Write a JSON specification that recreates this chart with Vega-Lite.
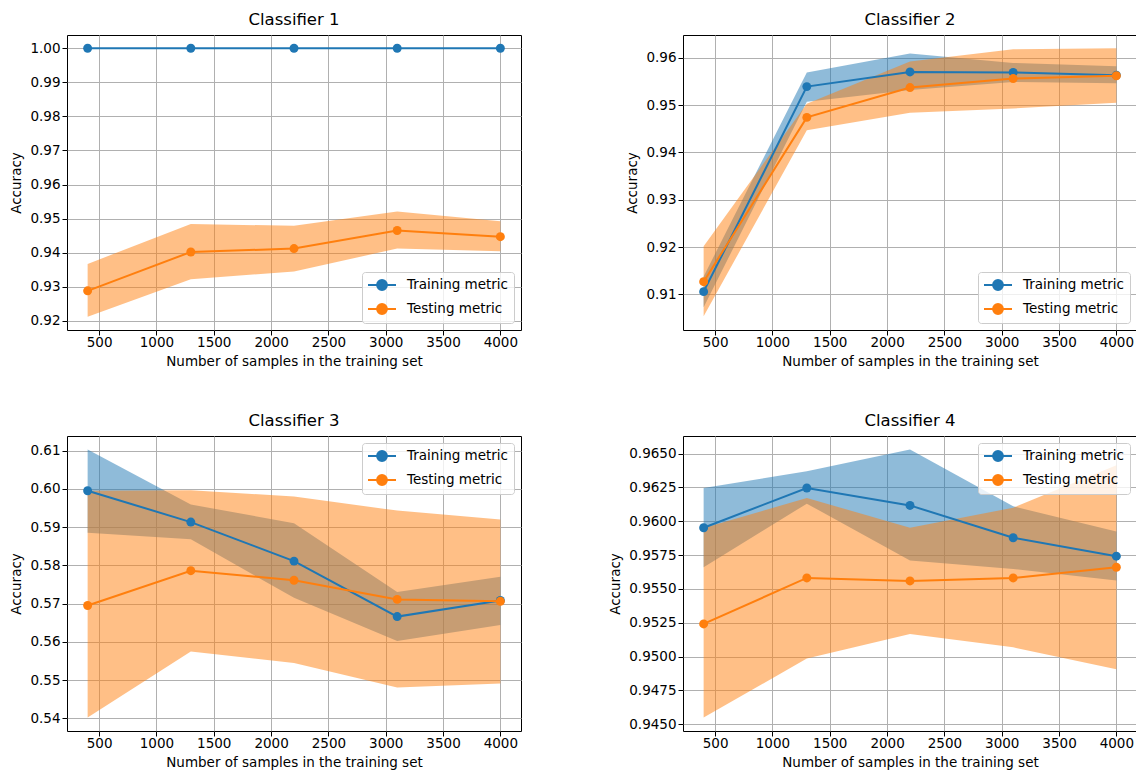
{
  "$schema": "https://vega.github.io/schema/vega-lite/v6.json",
  "padding": {"left": 9, "top": 11, "right": 0, "bottom": 0},
  "background": "white",
  "datasets": {
    "d": [
      {"clf": 1, "set": "Training metric", "n": 400, "mean": 1.0, "lo": 1.0, "hi": 1.0},
      {"clf": 1, "set": "Training metric", "n": 1300, "mean": 1.0, "lo": 1.0, "hi": 1.0},
      {"clf": 1, "set": "Training metric", "n": 2200, "mean": 1.0, "lo": 1.0, "hi": 1.0},
      {"clf": 1, "set": "Training metric", "n": 3100, "mean": 1.0, "lo": 1.0, "hi": 1.0},
      {"clf": 1, "set": "Training metric", "n": 4000, "mean": 1.0, "lo": 1.0, "hi": 1.0},
      {"clf": 1, "set": "Testing metric", "n": 400, "mean": 0.9288, "lo": 0.9212, "hi": 0.9367},
      {"clf": 1, "set": "Testing metric", "n": 1300, "mean": 0.9402, "lo": 0.9322, "hi": 0.9484},
      {"clf": 1, "set": "Testing metric", "n": 2200, "mean": 0.9412, "lo": 0.9345, "hi": 0.9479},
      {"clf": 1, "set": "Testing metric", "n": 3100, "mean": 0.9465, "lo": 0.9412, "hi": 0.9521},
      {"clf": 1, "set": "Testing metric", "n": 4000, "mean": 0.9447, "lo": 0.9404, "hi": 0.9492},
      {"clf": 2, "set": "Training metric", "n": 400, "mean": 0.9106, "lo": 0.9073, "hi": 0.9138},
      {"clf": 2, "set": "Training metric", "n": 1300, "mean": 0.9539, "lo": 0.9507, "hi": 0.9569},
      {"clf": 2, "set": "Training metric", "n": 2200, "mean": 0.9570, "lo": 0.9532, "hi": 0.9609},
      {"clf": 2, "set": "Training metric", "n": 3100, "mean": 0.9569, "lo": 0.9549, "hi": 0.9589},
      {"clf": 2, "set": "Training metric", "n": 4000, "mean": 0.9563, "lo": 0.9546, "hi": 0.9582},
      {"clf": 2, "set": "Testing metric", "n": 400, "mean": 0.9127, "lo": 0.9054, "hi": 0.9202},
      {"clf": 2, "set": "Testing metric", "n": 1300, "mean": 0.9474, "lo": 0.9447, "hi": 0.9503},
      {"clf": 2, "set": "Testing metric", "n": 2200, "mean": 0.9537, "lo": 0.9484, "hi": 0.9592},
      {"clf": 2, "set": "Testing metric", "n": 3100, "mean": 0.9556, "lo": 0.9493, "hi": 0.9618},
      {"clf": 2, "set": "Testing metric", "n": 4000, "mean": 0.9562, "lo": 0.9505, "hi": 0.9620},
      {"clf": 3, "set": "Training metric", "n": 400, "mean": 0.5995, "lo": 0.5885, "hi": 0.6103},
      {"clf": 3, "set": "Training metric", "n": 1300, "mean": 0.5913, "lo": 0.5868, "hi": 0.5959},
      {"clf": 3, "set": "Training metric", "n": 2200, "mean": 0.5811, "lo": 0.5715, "hi": 0.5910},
      {"clf": 3, "set": "Training metric", "n": 3100, "mean": 0.5666, "lo": 0.5602, "hi": 0.5730},
      {"clf": 3, "set": "Training metric", "n": 4000, "mean": 0.5708, "lo": 0.5644, "hi": 0.5770},
      {"clf": 3, "set": "Testing metric", "n": 400, "mean": 0.5695, "lo": 0.5402, "hi": 0.5995},
      {"clf": 3, "set": "Testing metric", "n": 1300, "mean": 0.5786, "lo": 0.5575, "hi": 0.5996},
      {"clf": 3, "set": "Testing metric", "n": 2200, "mean": 0.5761, "lo": 0.5545, "hi": 0.5980},
      {"clf": 3, "set": "Testing metric", "n": 3100, "mean": 0.5711, "lo": 0.5481, "hi": 0.5943},
      {"clf": 3, "set": "Testing metric", "n": 4000, "mean": 0.5706, "lo": 0.5491, "hi": 0.5920},
      {"clf": 4, "set": "Training metric", "n": 400, "mean": 0.95952, "lo": 0.9566, "hi": 0.96246},
      {"clf": 4, "set": "Training metric", "n": 1300, "mean": 0.96246, "lo": 0.9613, "hi": 0.96369},
      {"clf": 4, "set": "Training metric", "n": 2200, "mean": 0.96117, "lo": 0.9571, "hi": 0.9653},
      {"clf": 4, "set": "Training metric", "n": 3100, "mean": 0.95878, "lo": 0.95648, "hi": 0.9611},
      {"clf": 4, "set": "Training metric", "n": 4000, "mean": 0.95742, "lo": 0.95562, "hi": 0.95925},
      {"clf": 4, "set": "Testing metric", "n": 400, "mean": 0.95241, "lo": 0.94549, "hi": 0.9595},
      {"clf": 4, "set": "Testing metric", "n": 1300, "mean": 0.95581, "lo": 0.94986, "hi": 0.96172},
      {"clf": 4, "set": "Testing metric", "n": 2200, "mean": 0.95559, "lo": 0.95166, "hi": 0.95952},
      {"clf": 4, "set": "Testing metric", "n": 3100, "mean": 0.95581, "lo": 0.95068, "hi": 0.9610},
      {"clf": 4, "set": "Testing metric", "n": 4000, "mean": 0.9566, "lo": 0.94907, "hi": 0.96414}
    ]
  },
  "columns": 2,
  "bounds": "flush",
  "spacing": {"row": 106, "column": 162},
  "resolve": {"scale": {"color": "independent"}, "legend": {"color": "independent"}},
  "concat": [
    {
      "title": "Classifier 1",
      "width": 454, "height": 295,
      "data": {"name": "d"},
      "transform": [{"filter": "datum.clf == 1"}],
      "encoding": {
        "x": {"field": "n", "type": "quantitative", "scale": {"domain": [220, 4180], "nice": false, "zero": false}, "axis": {"values": [500, 1000, 1500, 2000, 2500, 3000, 3500, 4000], "format": "d", "title": "Number of samples in the training set"}},
        "y": {"field": "mean", "type": "quantitative", "title": "Accuracy", "scale": {"domain": [0.9173, 1.0039], "nice": false, "zero": false}, "axis": {"values": [0.92, 0.93, 0.94, 0.95, 0.96, 0.97, 0.98, 0.99, 1.0], "format": ".2f"}},
        "color": {"field": "set", "type": "nominal", "scale": {"domain": ["Training metric", "Testing metric"], "range": ["#1f77b4", "#ff7f0e"]},
          "legend": {"orient": "bottom-right", "encode": {"symbols": {"update": {"fill": {"signal": "datum.value === 'Training metric' ? '#1f77b4' : '#ff7f0e'"}, "stroke": {"signal": "datum.value === 'Training metric' ? '#1f77b4' : '#ff7f0e'"}, "opacity": {"value": 1}, "fillOpacity": {"value": 1}, "strokeOpacity": {"value": 1}}}}}}
      },
      "layer": [
        {"transform": [{"filter": "datum.set == 'Training metric'"}], "mark": {"type": "area", "opacity": 0.5}, "encoding": {"y": {"field": "lo", "type": "quantitative", "title": "Accuracy"}, "y2": {"field": "hi"}}},
        {"transform": [{"filter": "datum.set == 'Testing metric'"}], "mark": {"type": "area", "opacity": 0.5}, "encoding": {"y": {"field": "lo", "type": "quantitative", "title": "Accuracy"}, "y2": {"field": "hi"}}},
        {"transform": [{"filter": "datum.set == 'Training metric'"}], "mark": {"type": "line", "strokeWidth": 2, "point": {"filled": true, "size": 80, "opacity": 1}}},
        {"transform": [{"filter": "datum.set == 'Testing metric'"}], "mark": {"type": "line", "strokeWidth": 2, "point": {"filled": true, "size": 80, "opacity": 1}}}
      ]
    },
    {
      "title": "Classifier 2",
      "width": 454, "height": 295,
      "data": {"name": "d"},
      "transform": [{"filter": "datum.clf == 2"}],
      "encoding": {
        "x": {"field": "n", "type": "quantitative", "scale": {"domain": [220, 4180], "nice": false, "zero": false}, "axis": {"values": [500, 1000, 1500, 2000, 2500, 3000, 3500, 4000], "format": "d", "title": "Number of samples in the training set"}},
        "y": {"field": "mean", "type": "quantitative", "title": "Accuracy", "scale": {"domain": [0.9025, 0.9648], "nice": false, "zero": false}, "axis": {"values": [0.91, 0.92, 0.93, 0.94, 0.95, 0.96], "format": ".2f"}},
        "color": {"field": "set", "type": "nominal", "scale": {"domain": ["Training metric", "Testing metric"], "range": ["#1f77b4", "#ff7f0e"]},
          "legend": {"orient": "bottom-right", "encode": {"symbols": {"update": {"fill": {"signal": "datum.value === 'Training metric' ? '#1f77b4' : '#ff7f0e'"}, "stroke": {"signal": "datum.value === 'Training metric' ? '#1f77b4' : '#ff7f0e'"}, "opacity": {"value": 1}, "fillOpacity": {"value": 1}, "strokeOpacity": {"value": 1}}}}}}
      },
      "layer": [
        {"transform": [{"filter": "datum.set == 'Training metric'"}], "mark": {"type": "area", "opacity": 0.5}, "encoding": {"y": {"field": "lo", "type": "quantitative", "title": "Accuracy"}, "y2": {"field": "hi"}}},
        {"transform": [{"filter": "datum.set == 'Testing metric'"}], "mark": {"type": "area", "opacity": 0.5}, "encoding": {"y": {"field": "lo", "type": "quantitative", "title": "Accuracy"}, "y2": {"field": "hi"}}},
        {"transform": [{"filter": "datum.set == 'Training metric'"}], "mark": {"type": "line", "strokeWidth": 2, "point": {"filled": true, "size": 80, "opacity": 1}}},
        {"transform": [{"filter": "datum.set == 'Testing metric'"}], "mark": {"type": "line", "strokeWidth": 2, "point": {"filled": true, "size": 80, "opacity": 1}}}
      ]
    },
    {
      "title": "Classifier 3",
      "width": 454, "height": 295,
      "data": {"name": "d"},
      "transform": [{"filter": "datum.clf == 3"}],
      "encoding": {
        "x": {"field": "n", "type": "quantitative", "scale": {"domain": [220, 4180], "nice": false, "zero": false}, "axis": {"values": [500, 1000, 1500, 2000, 2500, 3000, 3500, 4000], "format": "d", "title": "Number of samples in the training set"}},
        "y": {"field": "mean", "type": "quantitative", "title": "Accuracy", "scale": {"domain": [0.5367, 0.6138], "nice": false, "zero": false}, "axis": {"values": [0.54, 0.55, 0.56, 0.57, 0.58, 0.59, 0.60, 0.61], "format": ".2f"}},
        "color": {"field": "set", "type": "nominal", "scale": {"domain": ["Training metric", "Testing metric"], "range": ["#1f77b4", "#ff7f0e"]},
          "legend": {"orient": "top-right", "encode": {"symbols": {"update": {"fill": {"signal": "datum.value === 'Training metric' ? '#1f77b4' : '#ff7f0e'"}, "stroke": {"signal": "datum.value === 'Training metric' ? '#1f77b4' : '#ff7f0e'"}, "opacity": {"value": 1}, "fillOpacity": {"value": 1}, "strokeOpacity": {"value": 1}}}}}}
      },
      "layer": [
        {"transform": [{"filter": "datum.set == 'Training metric'"}], "mark": {"type": "area", "opacity": 0.5}, "encoding": {"y": {"field": "lo", "type": "quantitative", "title": "Accuracy"}, "y2": {"field": "hi"}}},
        {"transform": [{"filter": "datum.set == 'Testing metric'"}], "mark": {"type": "area", "opacity": 0.5}, "encoding": {"y": {"field": "lo", "type": "quantitative", "title": "Accuracy"}, "y2": {"field": "hi"}}},
        {"transform": [{"filter": "datum.set == 'Training metric'"}], "mark": {"type": "line", "strokeWidth": 2, "point": {"filled": true, "size": 80, "opacity": 1}}},
        {"transform": [{"filter": "datum.set == 'Testing metric'"}], "mark": {"type": "line", "strokeWidth": 2, "point": {"filled": true, "size": 80, "opacity": 1}}}
      ]
    },
    {
      "title": "Classifier 4",
      "width": 454, "height": 295,
      "data": {"name": "d"},
      "transform": [{"filter": "datum.clf == 4"}],
      "encoding": {
        "x": {"field": "n", "type": "quantitative", "scale": {"domain": [220, 4180], "nice": false, "zero": false}, "axis": {"values": [500, 1000, 1500, 2000, 2500, 3000, 3500, 4000], "format": "d", "title": "Number of samples in the training set"}},
        "y": {"field": "mean", "type": "quantitative", "title": "Accuracy", "scale": {"domain": [0.9445, 0.9663], "nice": false, "zero": false}, "axis": {"values": [0.945, 0.9475, 0.95, 0.9525, 0.955, 0.9575, 0.96, 0.9625, 0.965], "format": ".4f"}},
        "color": {"field": "set", "type": "nominal", "scale": {"domain": ["Training metric", "Testing metric"], "range": ["#1f77b4", "#ff7f0e"]},
          "legend": {"orient": "top-right", "encode": {"symbols": {"update": {"fill": {"signal": "datum.value === 'Training metric' ? '#1f77b4' : '#ff7f0e'"}, "stroke": {"signal": "datum.value === 'Training metric' ? '#1f77b4' : '#ff7f0e'"}, "opacity": {"value": 1}, "fillOpacity": {"value": 1}, "strokeOpacity": {"value": 1}}}}}}
      },
      "layer": [
        {"transform": [{"filter": "datum.set == 'Training metric'"}], "mark": {"type": "area", "opacity": 0.5}, "encoding": {"y": {"field": "lo", "type": "quantitative", "title": "Accuracy"}, "y2": {"field": "hi"}}},
        {"transform": [{"filter": "datum.set == 'Testing metric'"}], "mark": {"type": "area", "opacity": 0.5}, "encoding": {"y": {"field": "lo", "type": "quantitative", "title": "Accuracy"}, "y2": {"field": "hi"}}},
        {"transform": [{"filter": "datum.set == 'Training metric'"}], "mark": {"type": "line", "strokeWidth": 2, "point": {"filled": true, "size": 80, "opacity": 1}}},
        {"transform": [{"filter": "datum.set == 'Testing metric'"}], "mark": {"type": "line", "strokeWidth": 2, "point": {"filled": true, "size": 80, "opacity": 1}}}
      ]
    }
  ],
  "config": {
    "font": "DejaVu Sans",
    "view": {"stroke": "black", "strokeWidth": 1},
    "axis": {"labelFontSize": 13.5, "titleFontSize": 13.5, "titleFontWeight": "normal", "labelColor": "black", "titleColor": "black", "gridColor": "#b0b0b0", "gridWidth": 1, "gridOpacity": 1, "tickColor": "black", "tickSize": 5, "tickWidth": 1, "domain": false, "labelPadding": 2, "labelFont": "DejaVu Sans", "titleFont": "DejaVu Sans"},
    "axisX": {"titlePadding": 6, "labelPadding": 0, "labelFlush": false, "labelOverlap": false},
    "axisY": {"titlePadding": 6},
    "title": {"fontSize": 16.5, "fontWeight": "normal", "color": "black", "offset": 7, "font": "DejaVu Sans"},
    "legend": {"title": null, "offset": 7, "labelFontSize": 13.5, "labelColor": "black", "labelFont": "DejaVu Sans", "fillColor": "rgba(255,255,255,0.8)", "strokeColor": "#cccccc", "cornerRadius": 3, "padding": 5, "rowPadding": 6, "symbolType": "M-2,0H2M-0.7,0A0.7,0.7,0,1,1,0.7,0A0.7,0.7,0,1,1,-0.7,0Z", "symbolSize": 196, "symbolStrokeWidth": 2, "symbolOffset": 7, "labelOffset": 17}
  }
}
